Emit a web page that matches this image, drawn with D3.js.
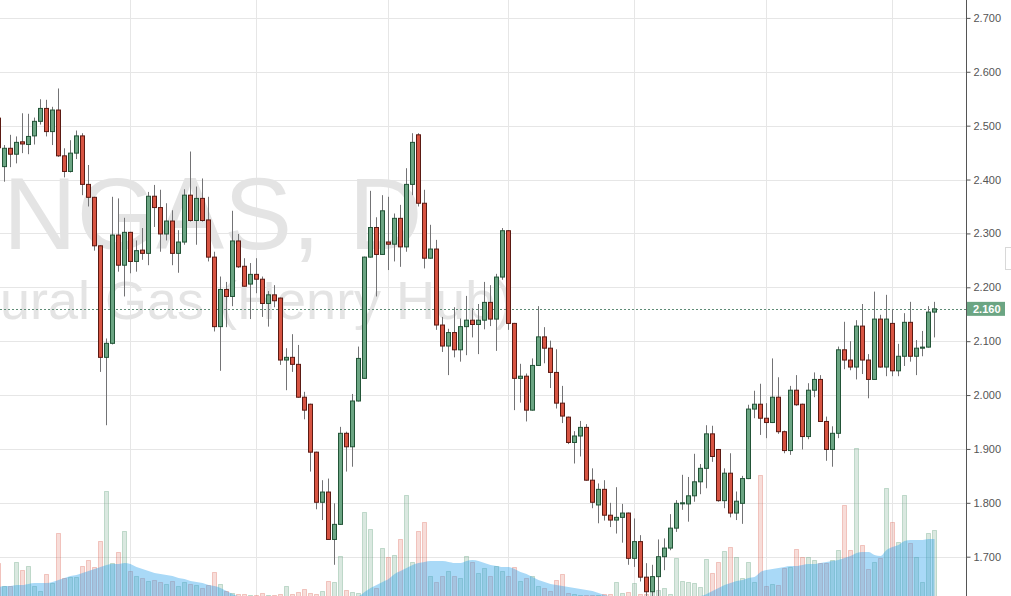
<!DOCTYPE html>
<html><head><meta charset="utf-8">
<script src="https://cdn.jsdelivr.net/npm/d3@7/dist/d3.min.js"></script>
<style>html,body{margin:0;padding:0;background:#fff;overflow:hidden;} svg{display:block;}</style>
</head><body>
<svg id="chart" width="1011" height="596"></svg>
<script>
// ---- DATA (daily NGAS candles, oldest first) ----
const opens = [2.514,2.424,2.458,2.447,2.470,2.465,2.481,2.508,2.532,2.489,2.529,2.444,2.415,2.449,2.481,2.391,2.367,2.277,2.070,2.096,2.297,2.241,2.302,2.248,2.269,2.263,2.369,2.348,2.299,2.323,2.263,2.284,2.371,2.324,2.365,2.325,2.256,2.127,2.196,2.183,2.286,2.239,2.206,2.224,2.215,2.170,2.186,2.180,2.065,2.070,2.057,1.996,1.983,1.894,1.801,1.820,1.732,1.760,1.929,1.904,1.989,2.031,2.256,2.311,2.261,2.284,2.280,2.328,2.275,2.391,2.483,2.356,2.254,2.271,2.130,2.091,2.116,2.084,2.127,2.139,2.131,2.139,2.172,2.141,2.219,2.305,2.133,2.031,2.035,1.972,2.055,2.108,2.087,2.042,1.985,1.959,1.912,1.924,1.940,1.842,1.796,1.825,1.777,1.768,1.773,1.781,1.697,1.728,1.662,1.635,1.663,1.700,1.716,1.753,1.799,1.798,1.813,1.839,1.864,1.928,1.899,1.804,1.855,1.781,1.799,1.845,1.974,1.983,1.957,1.949,1.996,1.932,1.897,2.009,1.983,1.923,2.009,2.029,1.951,1.899,1.929,2.084,2.065,2.052,2.128,2.065,2.029,2.141,2.052,2.133,2.045,2.072,2.135,2.072,2.087,2.089,2.154];
const highs = [2.522,2.464,2.483,2.480,2.523,2.522,2.515,2.549,2.548,2.535,2.569,2.458,2.473,2.491,2.486,2.427,2.368,2.278,2.105,2.368,2.365,2.329,2.303,2.287,2.310,2.377,2.390,2.381,2.356,2.343,2.306,2.382,2.452,2.387,2.402,2.368,2.266,2.220,2.210,2.342,2.299,2.254,2.245,2.254,2.220,2.193,2.204,2.181,2.087,2.113,2.093,2.006,1.984,1.895,1.842,1.845,1.799,1.941,1.932,2.002,2.090,2.257,2.379,2.330,2.371,2.368,2.337,2.353,2.421,2.486,2.486,2.381,2.316,2.288,2.145,2.123,2.163,2.142,2.184,2.161,2.169,2.210,2.204,2.225,2.310,2.306,2.134,2.058,2.040,2.068,2.165,2.126,2.101,2.085,2.017,1.960,1.933,1.952,1.946,1.864,1.836,1.842,1.800,1.829,1.798,1.782,1.771,1.740,1.688,1.685,1.732,1.734,1.779,1.805,1.852,1.848,1.891,1.872,1.944,1.943,1.900,1.864,1.892,1.821,1.850,1.982,2.008,2.021,1.985,2.068,2.033,1.934,2.017,2.037,1.984,2.022,2.042,2.037,1.960,1.942,2.090,2.136,2.100,2.139,2.169,2.076,2.192,2.149,2.186,2.159,2.095,2.152,2.173,2.102,2.119,2.165,2.173];
const lows = [2.451,2.396,2.423,2.430,2.449,2.447,2.465,2.502,2.480,2.464,2.442,2.404,2.413,2.438,2.371,2.350,2.268,2.043,1.944,2.094,2.229,2.183,2.226,2.229,2.251,2.241,2.312,2.266,2.287,2.241,2.227,2.279,2.322,2.279,2.322,2.248,2.118,2.045,2.126,2.165,2.236,2.201,2.141,2.189,2.145,2.127,2.163,2.056,2.009,2.043,1.995,1.955,1.858,1.788,1.768,1.731,1.685,1.759,1.858,1.867,1.988,2.030,2.255,2.183,2.260,2.232,2.248,2.238,2.266,2.371,2.350,2.235,2.253,2.121,2.080,2.037,2.070,2.062,2.074,2.107,2.076,2.122,2.128,2.082,2.214,2.121,1.972,1.986,1.951,1.971,2.054,2.059,2.013,1.975,1.948,1.909,1.873,1.886,1.841,1.790,1.762,1.767,1.755,1.743,1.726,1.685,1.681,1.654,1.620,1.620,1.625,1.675,1.712,1.746,1.787,1.765,1.802,1.816,1.827,1.876,1.802,1.790,1.773,1.768,1.761,1.844,1.957,1.926,1.920,1.948,1.928,1.892,1.889,1.980,1.899,1.918,1.996,1.950,1.878,1.867,1.920,2.048,2.046,2.029,2.039,1.994,2.028,2.051,2.035,2.035,2.035,2.054,2.062,2.037,2.072,2.088,2.107];
const closes = [2.459,2.458,2.447,2.469,2.466,2.480,2.508,2.532,2.489,2.529,2.444,2.415,2.449,2.481,2.391,2.367,2.277,2.070,2.096,2.297,2.241,2.302,2.248,2.268,2.263,2.369,2.348,2.299,2.323,2.263,2.284,2.371,2.324,2.365,2.324,2.256,2.127,2.196,2.183,2.286,2.238,2.202,2.224,2.215,2.170,2.186,2.175,2.065,2.070,2.057,1.996,1.972,1.894,1.801,1.820,1.732,1.760,1.929,1.904,1.989,2.068,2.256,2.311,2.261,2.342,2.280,2.328,2.275,2.391,2.469,2.356,2.254,2.271,2.130,2.091,2.116,2.084,2.127,2.139,2.131,2.139,2.172,2.141,2.219,2.305,2.133,2.031,2.035,1.972,2.055,2.108,2.087,2.042,1.985,1.961,1.912,1.924,1.940,1.842,1.801,1.825,1.777,1.768,1.773,1.781,1.697,1.728,1.662,1.635,1.663,1.700,1.716,1.753,1.799,1.800,1.813,1.839,1.864,1.928,1.886,1.804,1.855,1.781,1.803,1.845,1.974,1.983,1.957,1.949,1.996,1.932,1.897,2.009,1.982,1.923,2.009,2.029,1.951,1.899,1.929,2.084,2.065,2.052,2.128,2.065,2.029,2.141,2.052,2.141,2.045,2.072,2.135,2.072,2.087,2.089,2.154,2.160];
const volumes = [33,10,10,34,26,30,10,5,22,13,63,18,19,19,30,36,29,55,105,33,44,65,25,20,18,15,16,14,12,15,10,14,12,11,8,11,24,12,5,3,2,2,1,1,3,1,1,2,10,2,4,7,3,2,5,15,14,40,6,4,3,84,67,8,48,39,41,57,101,34,65,74,20,14,20,25,20,18,40,34,23,28,20,30,25,20,29,15,18,20,10,8,5,16,22,3,2,1,1,1,1,2,2,14,3,4,13,2,2,5,6,8,2,38,15,14,13,9,37,23,34,45,49,39,18,34,14,121,10,12,11,28,29,47,39,39,36,33,33,36,46,91,46,148,51,27,34,38,108,74,54,101,53,39,14,63,66];
const volumeMA = [9,10,10,11,11,12,13,13,13,14,16,18,20,21,23,25,27,29,31,32,32,33,32,29,27,25,23,22,21,20,18,17,15,14,13,11,10,8,5,2,0,0,0,0,0,0,0,0,0,0,0,0,0,0,0,0,0,0,0,0,0,4,8,11,14,17,22,25,28,31,33,34,35,35,35,34,33,33,35,36,35,33,31,30,29,29,27,24,22,19,16,14,12,11,10,9,8,7,6,5,3,1,0,0,0,0,0,0,0,0,0,0,0,0,0,0,0,0,2,5,8,11,13,15,16,18,19,24,26,27,28,29,30,30,31,32,32,33,34,35,36,38,40,43,44,44,41,40,46,49,51,55,56,56,56,57,57];
const priceTicks = [1.7,1.8,1.9,2.0,2.1,2.2,2.3,2.4,2.5,2.6,2.7];
const monthStartIdx = [22,43,65,85,106,128,149];
const symbolTitle = "NGAS, D";
const symbolDescVisible = "ural Gas (Henry Hub)";   // "Natural Gas (Henry Hub)" as cropped in the picture

// ---- CHART ----
const W = 1011, H = 596, plotR = 966;
const n = opens.length;
const svg = d3.select("#chart");
const x = d3.scaleLinear().domain([0, n - 1]).range([-2, 934]);
const y = d3.scaleLinear().domain([1.7, 2.7]).range([556.7, 17.9]);
const yv = d3.scaleLinear().domain([0, 150]).range([H, H - 150]);

svg.append("defs").append("clipPath").attr("id", "plot")
  .append("rect").attr("x", 0).attr("y", 0).attr("width", plotR).attr("height", H);

const g = svg.append("g").attr("clip-path", "url(#plot)");

// grid
g.selectAll("line.hg").data(priceTicks).join("line")
  .attr("x1", 0).attr("x2", plotR)
  .attr("y1", d => Math.round(y(d)) + 0.5).attr("y2", d => Math.round(y(d)) + 0.5)
  .attr("stroke", "#e6e6e6").attr("stroke-width", 1);
g.selectAll("line.vg").data(monthStartIdx).join("line")
  .attr("x1", d => x(d) + 0.5).attr("x2", d => x(d) + 0.5)
  .attr("y1", 0).attr("y2", H)
  .attr("stroke", "#e6e6e6").attr("stroke-width", 1);

// watermark
g.append("text").text(symbolTitle)
  .attr("x", 3).attr("y", 249)
  .attr("font-family", "Liberation Sans, Arial, sans-serif")
  .attr("font-size", 102).attr("fill", "#e4e4e4");
g.append("text").text(symbolDescVisible)
  .attr("x", 0).attr("y", 319)
  .attr("font-family", "Liberation Sans, Arial, sans-serif")
  .attr("font-size", 54).attr("fill", "#e4e4e4");

// volume bars
const idx = d3.range(n);
g.selectAll("rect.vol").data(idx).join("rect")
  .attr("x", i => x(i) - 1.5)
  .attr("width", 4)
  .attr("y", i => yv(volumes[i]) + 0.5)
  .attr("height", i => Math.max(0, H - yv(volumes[i])))
  .attr("fill", i => closes[i] >= opens[i] ? "rgba(107,165,131,0.25)" : "rgba(215,84,66,0.2)")
  .attr("stroke", i => closes[i] >= opens[i] ? "rgba(107,165,131,0.35)" : "rgba(215,84,66,0.28)")
  .attr("stroke-width", 1);

// volume MA area
const area = d3.area()
  .x(i => x(i) + 0.5)
  .y0(H)
  .y1(i => yv(volumeMA[i]))
  .curve(d3.curveMonotoneX);
g.append("path").datum(idx).attr("d", area)
  .attr("fill", "rgba(40,160,235,0.4)");

// last price line
const last = closes[n - 1];
g.append("line")
  .attr("x1", 0).attr("x2", plotR)
  .attr("y1", Math.round(y(last)) + 0.5).attr("y2", Math.round(y(last)) + 0.5)
  .attr("stroke", "#5f8c76").attr("stroke-width", 1).attr("stroke-dasharray", "2,2");

// candles
const up = i => closes[i] >= opens[i];
g.selectAll("line.wick").data(idx).join("line")
  .attr("x1", i => x(i) + 0.5).attr("x2", i => x(i) + 0.5)
  .attr("y1", i => y(highs[i])).attr("y2", i => y(lows[i]))
  .attr("stroke", "#737375").attr("stroke-width", 1);
g.selectAll("rect.body").data(idx).join("rect")
  .attr("x", i => x(i) - 1.5)
  .attr("width", 4)
  .attr("y", i => y(Math.max(opens[i], closes[i])))
  .attr("height", i => Math.max(1, Math.abs(y(opens[i]) - y(closes[i]))))
  .attr("fill", i => up(i) ? "#6ba583" : "#d75442")
  .attr("stroke", i => up(i) ? "#225437" : "#5b1a13")
  .attr("stroke-width", 1);

// right price axis
svg.append("line").attr("x1", plotR + 0.5).attr("x2", plotR + 0.5)
  .attr("y1", 0).attr("y2", H).attr("stroke", "#555").attr("stroke-width", 1);
const axis = d3.axisRight(y).tickValues(priceTicks).tickFormat(d3.format(".3f"))
  .tickSize(4).tickPadding(3);
const ax = svg.append("g").attr("transform", `translate(${plotR + 0.5},0)`).call(axis);
ax.select(".domain").remove();
ax.selectAll(".tick line").attr("stroke", "#555");
ax.selectAll(".tick text").attr("fill", "#555")
  .attr("font-family", "Liberation Sans, Arial, sans-serif").attr("font-size", 11);

// last price tag
const ly = y(last);
svg.append("rect").attr("x", plotR + 1).attr("y", ly - 7).attr("width", 38).attr("height", 14)
  .attr("fill", "#6ba583");
svg.append("text").text(d3.format(".3f")(last))
  .attr("x", plotR + 7).attr("y", ly + 4)
  .attr("fill", "#fff").attr("font-family", "Liberation Sans, Arial, sans-serif")
  .attr("font-size", 11).attr("font-weight", "bold");

// small scroll handle at right edge
svg.append("rect").attr("x", 1005.5).attr("y", 247.5).attr("width", 8).attr("height", 22)
  .attr("fill", "#fff").attr("stroke", "#d8d8d8");
</script>
</body></html>
